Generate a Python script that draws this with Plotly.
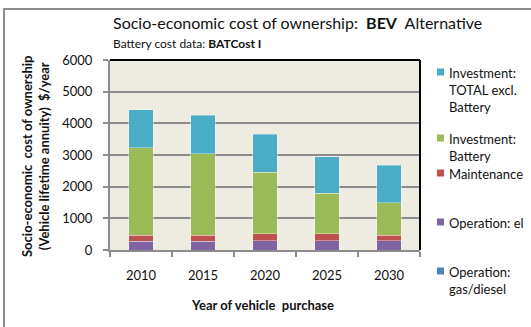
import plotly.graph_objects as go

years = ["2010", "2015", "2020", "2025", "2030"]
series_names = ["Operation: gas/diesel", "Operation: el", "Maintenance",
                "Investment: Battery", "Investment: TOTAL excl. Battery"]
legend_labels = ["Operation:<br>gas/diesel", "Operation: el", "Maintenance",
                 "Investment:<br>Battery", "Investment:<br>TOTAL excl.<br>Battery"]
op_gas = [0, 0, 0, 0, 0]
op_el = [270, 270, 290, 290, 290]
maintenance = [200, 200, 230, 230, 180]
inv_battery = [2765, 2576, 1930, 1270, 1025]
inv_total_excl = [1195, 1205, 1205, 1150, 1175]
colors = ["#4F81BD", "#8064A2", "#C0504D", "#9BBB59", "#4BACC6"]

values = [op_gas, op_el, maintenance, inv_battery, inv_total_excl]

W, H = 531, 327
L, R, T, B = 110, 111, 60, 77
PW, PH = W - L - R, H - T - B


def px(x):
    return (x - L) / PW


def py(y):
    return (H - B - y) / PH


FONT = "Lato"

fig = go.Figure()
for name, vals, col in zip(series_names, values, colors):
    fig.add_trace(go.Bar(x=years, y=vals, name=name, marker_color=col,
                         marker_line=dict(color="rgba(255,255,255,0.45)", width=0.8),
                         showlegend=False))

fig.update_layout(
    width=W, height=H, barmode="stack", bargap=0.61,
    margin=dict(l=L, r=R, t=T, b=B, autoexpand=False),
    paper_bgcolor="white", plot_bgcolor="#EEEBE1",
    font=dict(family=FONT, size=13, color="#111"),
)
fig.update_yaxes(range=[0, 6000], tickvals=[0, 1000, 2000, 3000, 4000, 5000, 6000],
                 showgrid=True, gridcolor="#8C8C8C", gridwidth=2,
                 showline=True, linecolor="#8C8C8C", linewidth=2,
                 ticks="outside", ticklen=5, tickcolor="#8C8C8C", tickwidth=2,
                 ticklabelstandoff=8, zeroline=False, automargin=False)
fig.update_xaxes(showline=True, linecolor="#8C8C8C", linewidth=2,
                 ticks="outside", ticklen=5, tickcolor="#8C8C8C", tickwidth=2,
                 tickson="boundaries", ticklabelstandoff=12, automargin=False)

shapes = [
    # plot area top and right border
    dict(type="line", xref="paper", yref="paper", x0=0, x1=1, y0=1, y1=1,
         line=dict(color="black", width=2)),
    dict(type="line", xref="paper", yref="paper", x0=1, x1=1, y0=0, y1=1,
         line=dict(color="black", width=2)),
    # outer frame
    dict(type="rect", xref="paper", yref="paper", x0=px(4), x1=px(545),
         y0=py(345), y1=py(9), line=dict(color="#8C8C8C", width=2)),
]

annotations = [
    dict(text="Socio-economic cost of ownership:  <b>BEV</b>  Alternative",
         x=px(111), y=py(22), xref="paper", yref="paper", xanchor="left",
         yanchor="middle", showarrow=False, font=dict(size=16)),
    dict(text="Battery cost data: <b>BATCost I</b>",
         x=px(111), y=py(44), xref="paper", yref="paper", xanchor="left",
         yanchor="middle", showarrow=False, font=dict(size=12)),
    dict(text="<b>Socio-economic  cost of ownership<br>(Vehicle lifetime annuity)  $/year</b>",
         x=px(35), y=py(157), xref="paper", yref="paper", xanchor="center",
         yanchor="middle", showarrow=False, textangle=-90, font=dict(size=13)),
    dict(text="<b>Year of vehicle  purchase</b>",
         x=px(262), y=py(305), xref="paper", yref="paper", xanchor="center",
         yanchor="middle", showarrow=False, font=dict(size=13)),
]

# manual legend (Excel-style spacing)
legend_first_line_y = [271, 222, 173, 138, 72]
for lab, col, yc in zip(legend_labels, colors, legend_first_line_y):
    shapes.append(dict(type="rect", xref="paper", yref="paper",
                       x0=px(437), x1=px(444), y0=py(yc + 3.5), y1=py(yc - 3.5),
                       fillcolor=col, line=dict(width=0)))
    annotations.append(dict(text=lab, x=px(447), y=py(yc - 9.5), xref="paper",
                            yref="paper", xanchor="left", yanchor="top",
                            align="left", showarrow=False, font=dict(size=13)))

fig.update_layout(shapes=shapes, annotations=annotations)
fig.write_html("out.html",
               config={"displayModeBar": False},
               post_script="document.body.style.margin='0';"
                           "document.body.style.overflow='hidden';")
